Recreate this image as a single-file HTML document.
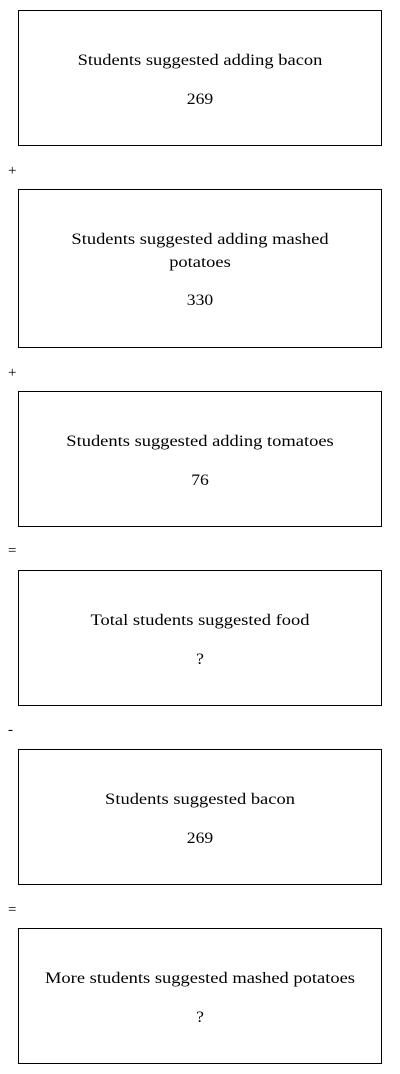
<!DOCTYPE html>
<html><head><meta charset="utf-8"><style>
body{margin:0;width:400px;height:1074px;background:#fff;position:relative;font-family:"Liberation Serif","DejaVu Serif",serif;font-size:16px;color:#000}
.box{position:absolute;left:18px;width:362px;border:1px solid #000;text-align:center}
.t{position:absolute;left:0;right:0;line-height:23px;white-space:nowrap;transform:scaleX(1.155)}
.n{position:absolute;left:0;right:0;line-height:20px;transform:scaleX(1.1)}
.op{position:absolute;left:8px;font-size:15px}
</style></head><body>
<div class="box" style="top:10px;height:134px"><div class="t" style="top:38px">Students suggested adding bacon</div><div class="n" style="top:79px">269</div></div>
<div class="op" style="top:163px">+</div>
<div class="box" style="top:189px;height:157px"><div class="t" style="top:38px">Students suggested adding mashed<br>potatoes</div><div class="n" style="top:101px">330</div></div>
<div class="op" style="top:365px">+</div>
<div class="box" style="top:391px;height:134px"><div class="t" style="top:38px">Students suggested adding tomatoes</div><div class="n" style="top:79px">76</div></div>
<div class="op" style="top:543px">=</div>
<div class="box" style="top:570px;height:134px"><div class="t" style="top:38px">Total students suggested food</div><div class="n" style="top:79px">?</div></div>
<div class="op" style="top:722px">-</div>
<div class="box" style="top:749px;height:134px"><div class="t" style="top:38px">Students suggested bacon</div><div class="n" style="top:79px">269</div></div>
<div class="op" style="top:902px">=</div>
<div class="box" style="top:928px;height:134px"><div class="t" style="top:38px">More students suggested mashed potatoes</div><div class="n" style="top:79px">?</div></div>
</body></html>
